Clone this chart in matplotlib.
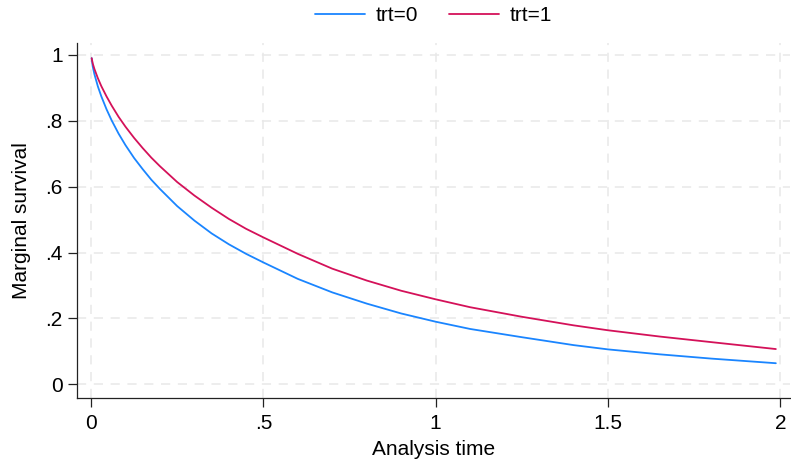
import matplotlib
matplotlib.use("Agg")
import matplotlib.pyplot as plt

plt.rcParams['font.family'] = ['Liberation Sans', 'DejaVu Sans']

# Data
time = [0.002, 0.005, 0.01, 0.02, 0.03, 0.045, 0.06, 0.08, 0.1, 0.125,
        0.15, 0.175, 0.2, 0.25, 0.3, 0.35, 0.4, 0.45, 0.5, 0.6, 0.7, 0.8,
        0.9, 1.0, 1.1, 1.25, 1.4, 1.5, 1.65, 1.8, 1.987]
surv_trt0 = [0.990, 0.965, 0.941, 0.904, 0.874, 0.835, 0.801, 0.761, 0.726,
             0.687, 0.653, 0.621, 0.593, 0.541, 0.497, 0.458, 0.425, 0.396,
             0.370, 0.320, 0.279, 0.245, 0.215, 0.190, 0.168, 0.143, 0.119,
             0.106, 0.091, 0.078, 0.064]
surv_trt1 = [0.990, 0.974, 0.957, 0.929, 0.905, 0.874, 0.846, 0.812, 0.782,
             0.748, 0.717, 0.688, 0.662, 0.614, 0.573, 0.536, 0.502, 0.472,
             0.446, 0.396, 0.351, 0.315, 0.284, 0.258, 0.234, 0.205, 0.179,
             0.164, 0.145, 0.128, 0.107]
labels = ["trt=0", "trt=1"]
colors = ["#1A85FF", "#D41159"]

xticks = [0, 0.5, 1, 1.5, 2]
xticklabels = ["0", ".5", "1", "1.5", "2"]
yticks = [0, 0.2, 0.4, 0.6, 0.8, 1]
yticklabels = ["0", ".2", ".4", ".6", ".8", "1"]

FS = 15

fig = plt.figure(figsize=(7.91, 4.61), dpi=100)
ax = fig.add_axes([0.0977, 0.136, 0.901, 0.7714])

for ys, lab, c in zip([surv_trt0, surv_trt1], labels, colors):
    ax.plot(time, ys, color=c, lw=1.3, label=lab, solid_capstyle='round',
            solid_joinstyle='round')

ax.set_xlim(-0.0398, 2.028)
ax.set_ylim(-0.0425, 1.037)
ax.set_xticks(xticks)
ax.set_xticklabels(xticklabels)
ax.set_yticks(yticks)
ax.set_yticklabels(yticklabels)

ax.grid(True, color="#e8e8e8", lw=1.1, linestyle=(0, (6, 5)))
ax.set_axisbelow(True)

for s in ["top", "right"]:
    ax.spines[s].set_visible(False)
for s in ["left", "bottom"]:
    ax.spines[s].set_linewidth(0.9)
    ax.spines[s].set_color("#222222")

ax.tick_params(axis='both', length=6.5, width=0.9, color="#222222",
               labelsize=FS, direction='out')
ax.tick_params(axis='x', pad=4.5)
ax.tick_params(axis='y', pad=4)

ax.set_xlabel("Analysis time", fontsize=FS, labelpad=5)
ax.set_ylabel("Marginal survival", fontsize=FS, labelpad=10)

fig.legend(loc='center', bbox_to_anchor=(0.548, 0.966), ncol=2,
           frameon=False, fontsize=FS, handlelength=2.4,
           columnspacing=1.5, handletextpad=0.5)

fig.savefig("out.png", dpi=100)
